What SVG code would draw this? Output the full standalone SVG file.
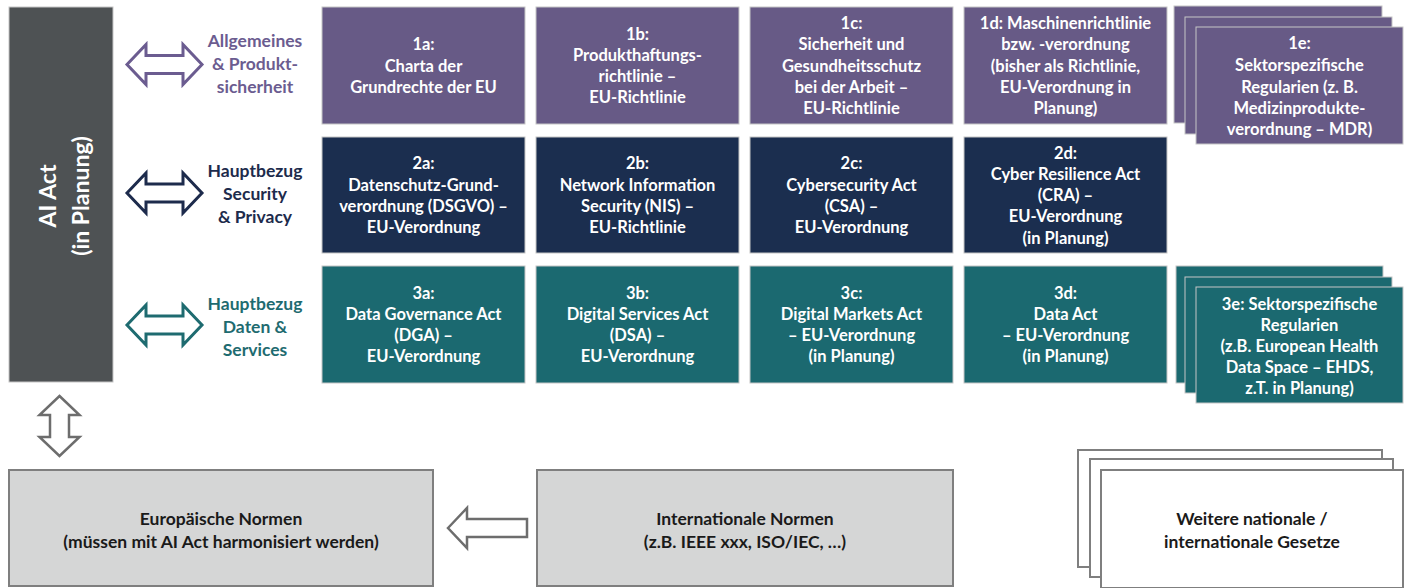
<svg xmlns="http://www.w3.org/2000/svg" width="1411" height="588" viewBox="0 0 1411 588">
<style>
text{font-family:Lato,"Liberation Sans",sans-serif;font-weight:bold;text-anchor:middle}
.p{fill:#675a86;stroke:#c6c6c6;stroke-width:1}
.n{fill:#1b2e4f;stroke:#c6c6c6;stroke-width:1}
.g{fill:#1b6970;stroke:#c6c6c6;stroke-width:1}
.w{fill:#ffffff;font-size:16.5px}
.lbl{font-size:17.5px}
.bt{fill:#1a1a1a;font-size:17.5px}
.gr{fill:#d5d6d6;stroke:#7f7f7f;stroke-width:2}
.wh{fill:#ffffff;stroke:#7f7f7f;stroke-width:2}
.ar{fill:#ffffff;stroke-width:3;stroke-linejoin:miter}
</style>
<g id="ai-act">
<rect x="9" y="7" width="104" height="375" fill="#4e5254" stroke="#c6c6c6" stroke-width="1"/>
<text class="w" style="font-size:23px" transform="translate(56,196) rotate(-90)">AI Act</text>
<text class="w" style="font-size:23px" transform="translate(89,196) rotate(-90)">(in Planung)</text>
</g>
<g id="label-1"><text class="lbl" fill="#6b5c90" x="255"><tspan x="255" y="47">Allgemeines</tspan><tspan x="255" y="70">&amp; Produkt-</tspan><tspan x="255" y="93">sicherheit</tspan></text></g>
<g id="label-2"><text class="lbl" fill="#1d2b4c" x="255"><tspan x="255" y="177">Hauptbezug</tspan><tspan x="255" y="200">Security</tspan><tspan x="255" y="223">&amp; Privacy</tspan></text></g>
<g id="label-3"><text class="lbl" fill="#1e6b70" x="255"><tspan x="255" y="310">Hauptbezug</tspan><tspan x="255" y="333">Daten &amp;</tspan><tspan x="255" y="356">Services</tspan></text></g>

<g id="n1a"><rect class="p" x="322" y="7" width="203" height="117"/><text class="w"><tspan x="423.5" y="50">1a:</tspan><tspan x="423.5" y="72">Charta der</tspan><tspan x="423.5" y="93">Grundrechte der EU</tspan></text></g>
<g id="n1b"><rect class="p" x="536" y="7" width="203" height="117"/><text class="w"><tspan x="637.5" y="40">1b:</tspan><tspan x="637.5" y="61">Produkthaftungs-</tspan><tspan x="637.5" y="82">richtlinie –</tspan><tspan x="637.5" y="103">EU-Richtlinie</tspan></text></g>
<g id="n1c"><rect class="p" x="750" y="7" width="203" height="117"/><text class="w"><tspan x="851.5" y="29">1c:</tspan><tspan x="851.5" y="50">Sicherheit und</tspan><tspan x="851.5" y="72">Gesundheitsschutz</tspan><tspan x="851.5" y="93">bei der Arbeit –</tspan><tspan x="851.5" y="114">EU-Richtlinie</tspan></text></g>
<g id="n1d"><rect class="p" x="964" y="7" width="203" height="117"/><text class="w"><tspan x="1065.5" y="29">1d: Maschinenrichtlinie</tspan><tspan x="1065.5" y="50">bzw. -verordnung</tspan><tspan x="1065.5" y="72">(bisher als Richtlinie,</tspan><tspan x="1065.5" y="93">EU-Verordnung in</tspan><tspan x="1065.5" y="114">Planung)</tspan></text></g>
<g id="n1e"><rect class="p" x="1174" y="6" width="208" height="117"/><rect class="p" x="1185" y="17" width="207" height="117"/><rect class="p" x="1196" y="27" width="207" height="117"/><text class="w"><tspan x="1299.5" y="49">1e:</tspan><tspan x="1299.5" y="71">Sektorspezifische</tspan><tspan x="1299.5" y="93">Regularien (z. B.</tspan><tspan x="1299.5" y="114">Medizinprodukte-</tspan><tspan x="1299.5" y="135">verordnung – MDR)</tspan></text></g>

<g id="n2a"><rect class="n" x="322" y="137" width="203" height="116"/><text class="w"><tspan x="423.5" y="169">2a:</tspan><tspan x="423.5" y="191">Datenschutz-Grund-</tspan><tspan x="423.5" y="212">verordnung (DSGVO) –</tspan><tspan x="423.5" y="233">EU-Verordnung</tspan></text></g>
<g id="n2b"><rect class="n" x="536" y="137" width="203" height="116"/><text class="w"><tspan x="637.5" y="169">2b:</tspan><tspan x="637.5" y="191">Network Information</tspan><tspan x="637.5" y="212">Security (NIS) –</tspan><tspan x="637.5" y="233">EU-Richtlinie</tspan></text></g>
<g id="n2c"><rect class="n" x="750" y="137" width="203" height="116"/><text class="w"><tspan x="851.5" y="169">2c:</tspan><tspan x="851.5" y="191">Cybersecurity Act</tspan><tspan x="851.5" y="212">(CSA) –</tspan><tspan x="851.5" y="233">EU-Verordnung</tspan></text></g>
<g id="n2d"><rect class="n" x="964" y="137" width="203" height="116"/><text class="w"><tspan x="1065.5" y="159">2d:</tspan><tspan x="1065.5" y="180">Cyber Resilience Act</tspan><tspan x="1065.5" y="201">(CRA) –</tspan><tspan x="1065.5" y="222">EU-Verordnung</tspan><tspan x="1065.5" y="244">(in Planung)</tspan></text></g>

<g id="n3a"><rect class="g" x="322" y="266" width="203" height="117"/><text class="w"><tspan x="423.5" y="299">3a:</tspan><tspan x="423.5" y="320">Data Governance Act</tspan><tspan x="423.5" y="341">(DGA) –</tspan><tspan x="423.5" y="362">EU-Verordnung</tspan></text></g>
<g id="n3b"><rect class="g" x="536" y="266" width="203" height="117"/><text class="w"><tspan x="637.5" y="299">3b:</tspan><tspan x="637.5" y="320">Digital Services Act</tspan><tspan x="637.5" y="341">(DSA) –</tspan><tspan x="637.5" y="362">EU-Verordnung</tspan></text></g>
<g id="n3c"><rect class="g" x="750" y="266" width="203" height="117"/><text class="w"><tspan x="851.5" y="299">3c:</tspan><tspan x="851.5" y="320">Digital Markets Act</tspan><tspan x="851.5" y="341">– EU-Verordnung</tspan><tspan x="851.5" y="362">(in Planung)</tspan></text></g>
<g id="n3d"><rect class="g" x="964" y="266" width="203" height="117"/><text class="w"><tspan x="1065.5" y="299">3d:</tspan><tspan x="1065.5" y="320">Data Act</tspan><tspan x="1065.5" y="341">– EU-Verordnung</tspan><tspan x="1065.5" y="362">(in Planung)</tspan></text></g>
<g id="n3e"><rect class="g" x="1176" y="266" width="207" height="117"/><rect class="g" x="1185" y="277" width="207" height="116"/><rect class="g" x="1196" y="287" width="207" height="116"/><text class="w"><tspan x="1299.5" y="310">3e: Sektorspezifische</tspan><tspan x="1299.5" y="331">Regularien</tspan><tspan x="1299.5" y="352">(z.B. European Health</tspan><tspan x="1299.5" y="373">Data Space – EHDS,</tspan><tspan x="1299.5" y="394">z.T. in Planung)</tspan></text></g>

<g id="eu-normen"><rect class="gr" x="9" y="470" width="424" height="116"/><text class="bt"><tspan x="221" y="525">Europäische Normen</tspan><tspan x="221" y="548">(müssen mit AI Act harmonisiert werden)</tspan></text></g>
<g id="int-normen"><rect class="gr" x="537" y="470" width="416" height="116"/><text class="bt"><tspan x="745" y="525">Internationale Normen</tspan><tspan x="745" y="548">(z.B. IEEE xxx, ISO/IEC, …)</tspan></text></g>
<g id="gesetze"><rect class="wh" x="1078" y="450" width="304" height="117"/><rect class="wh" x="1090" y="459" width="303" height="118"/><rect class="wh" x="1101" y="470" width="302" height="118"/><text class="bt"><tspan x="1252" y="525">Weitere nationale /</tspan><tspan x="1252" y="548">internationale Gesetze</tspan></text></g>

<g id="connectors">
<path class="ar" stroke="#6b5c90" d="M127,64.5 L146,44.5 L146,55.5 L183,55.5 L183,44.5 L202,64.5 L183,84.5 L183,73.5 L146,73.5 L146,84.5 Z"/>
<path class="ar" stroke="#1d2b4c" d="M127,193 L146,173 L146,184 L183,184 L183,173 L202,193 L183,213 L183,202 L146,202 L146,213 Z"/>
<path class="ar" stroke="#1e6b70" d="M127,325 L146,305 L146,316 L183,316 L183,305 L202,325 L183,345 L183,334 L146,334 L146,345 Z"/>
<path fill="#ffffff" stroke="#6d6d6d" stroke-width="2.5" d="M59.5,396 L79.5,415 L69,415 L69,437 L79.5,437 L59.5,456 L39.5,437 L50,437 L50,415 L39.5,415 Z"/>
<path fill="#ffffff" stroke="#6d6d6d" stroke-width="2.5" d="M448,528 L467,508 L467,519 L527,519 L527,537 L467,537 L467,548 Z"/>
</g>
</svg>
